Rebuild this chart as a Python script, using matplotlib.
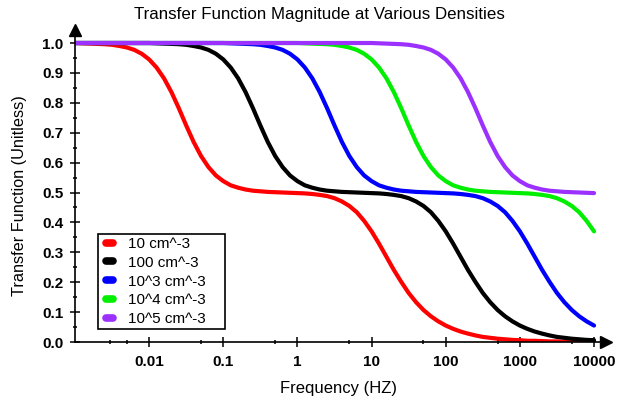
import matplotlib
matplotlib.use("Agg")
import matplotlib.pyplot as plt
from matplotlib.ticker import FixedLocator, NullFormatter

plt.rcParams['font.family'] = ['Liberation Sans', 'DejaVu Sans']

# frequences (Hz), pas de 1/10 de decade
freq = [0.001, 0.001259, 0.001585, 0.001995, 0.002512, 0.003162, 0.003981, 0.005012, 0.00631, 0.007943,
        0.01, 0.01259, 0.01585, 0.01995, 0.02512, 0.03162, 0.03981, 0.05012, 0.0631, 0.07943,
        0.1, 0.1259, 0.1585, 0.1995, 0.2512, 0.3162, 0.3981, 0.5012, 0.631, 0.7943,
        1, 1.259, 1.585, 1.995, 2.512, 3.162, 3.981, 5.012, 6.31, 7.943,
        10, 12.59, 15.85, 19.95, 25.12, 31.62, 39.81, 50.12, 63.1, 79.43,
        100, 125.9, 158.5, 199.5, 251.2, 316.2, 398.1, 501.2, 631, 794.3,
        1000, 1259, 1585, 1995, 2512, 3162, 3981, 5012, 6310, 7943,
        10000]

# valeurs, une liste par densite
h_10 = [1.000, 0.999, 0.998, 0.997, 0.996, 0.994, 0.990, 0.985, 0.977, 0.964,
        0.945, 0.918, 0.882, 0.836, 0.782, 0.724, 0.669, 0.622, 0.585, 0.557,
        0.538, 0.524, 0.516, 0.510, 0.506, 0.504, 0.502, 0.501, 0.500, 0.499,
        0.498, 0.497, 0.495, 0.492, 0.488, 0.481, 0.470, 0.455, 0.434, 0.405,
        0.370, 0.329, 0.285, 0.241, 0.201, 0.164, 0.133, 0.107, 0.086, 0.069,
        0.055, 0.044, 0.035, 0.028, 0.022, 0.017, 0.014, 0.011, 0.009, 0.007,
        0.006, 0.004, 0.004, 0.003, 0.002, 0.002, 0.001, 0.001, 0.001, 0.001,
        0.001]
h_100 = [1.000, 1.000, 1.000, 1.000, 1.000, 1.000, 1.000, 1.000, 1.000, 1.000,
         1.000, 0.999, 0.998, 0.997, 0.996, 0.994, 0.990, 0.985, 0.977, 0.964,
         0.945, 0.918, 0.882, 0.836, 0.782, 0.724, 0.669, 0.622, 0.585, 0.557,
         0.538, 0.524, 0.516, 0.510, 0.506, 0.504, 0.502, 0.501, 0.500, 0.499,
         0.498, 0.497, 0.495, 0.492, 0.488, 0.481, 0.470, 0.455, 0.434, 0.405,
         0.370, 0.329, 0.285, 0.241, 0.201, 0.164, 0.133, 0.107, 0.086, 0.069,
         0.055, 0.044, 0.035, 0.028, 0.022, 0.017, 0.014, 0.011, 0.009, 0.007,
         0.006]
h_1e3 = [1.000, 1.000, 1.000, 1.000, 1.000, 1.000, 1.000, 1.000, 1.000, 1.000,
         1.000, 1.000, 1.000, 1.000, 1.000, 1.000, 1.000, 1.000, 1.000, 1.000,
         1.000, 0.999, 0.998, 0.997, 0.996, 0.994, 0.990, 0.985, 0.977, 0.964,
         0.945, 0.918, 0.882, 0.836, 0.782, 0.724, 0.669, 0.622, 0.585, 0.557,
         0.538, 0.524, 0.516, 0.510, 0.506, 0.504, 0.502, 0.501, 0.500, 0.499,
         0.498, 0.497, 0.495, 0.492, 0.488, 0.481, 0.470, 0.455, 0.434, 0.405,
         0.370, 0.329, 0.285, 0.241, 0.201, 0.164, 0.133, 0.107, 0.086, 0.069,
         0.055]
h_1e4 = [1.000, 1.000, 1.000, 1.000, 1.000, 1.000, 1.000, 1.000, 1.000, 1.000,
         1.000, 1.000, 1.000, 1.000, 1.000, 1.000, 1.000, 1.000, 1.000, 1.000,
         1.000, 1.000, 1.000, 1.000, 1.000, 1.000, 1.000, 1.000, 1.000, 1.000,
         1.000, 0.999, 0.998, 0.997, 0.996, 0.994, 0.990, 0.985, 0.977, 0.964,
         0.945, 0.918, 0.882, 0.836, 0.782, 0.724, 0.669, 0.622, 0.585, 0.557,
         0.538, 0.524, 0.516, 0.510, 0.506, 0.504, 0.502, 0.501, 0.500, 0.499,
         0.498, 0.497, 0.495, 0.492, 0.488, 0.481, 0.470, 0.455, 0.434, 0.405,
         0.370]
h_1e5 = [1.000, 1.000, 1.000, 1.000, 1.000, 1.000, 1.000, 1.000, 1.000, 1.000,
         1.000, 1.000, 1.000, 1.000, 1.000, 1.000, 1.000, 1.000, 1.000, 1.000,
         1.000, 1.000, 1.000, 1.000, 1.000, 1.000, 1.000, 1.000, 1.000, 1.000,
         1.000, 1.000, 1.000, 1.000, 1.000, 1.000, 1.000, 1.000, 1.000, 1.000,
         1.000, 0.999, 0.998, 0.997, 0.996, 0.994, 0.990, 0.985, 0.977, 0.964,
         0.945, 0.918, 0.882, 0.836, 0.782, 0.724, 0.669, 0.622, 0.585, 0.557,
         0.538, 0.524, 0.516, 0.510, 0.506, 0.504, 0.502, 0.501, 0.500, 0.499,
         0.498]

series = [h_10, h_100, h_1e3, h_1e4, h_1e5]
labels = ["10 cm^-3", "100 cm^-3", "10^3 cm^-3", "10^4 cm^-3", "10^5 cm^-3"]
colors = ["#ff0000", "#000000", "#0000ff", "#00ee00", "#9b30ff"]

xticks = [0.01, 0.1, 1, 10, 100, 1000, 10000]
xticklabels = ["0.01", "0.1", "1", "10", "100", "1000", "10000"]
xminor = [0.003, 0.005, 0.05, 0.5, 5, 50, 500, 5000]
yticks = [0.0, 0.1, 0.2, 0.3, 0.4, 0.5, 0.6, 0.7, 0.8, 0.9, 1.0]
yminor = [0.05, 0.15, 0.25, 0.35, 0.45, 0.55, 0.65, 0.75, 0.85, 0.95]

fig = plt.figure(figsize=(6.19, 4.01), dpi=100)
ax = fig.add_axes([75 / 619, 59 / 401, 531 / 619, 312 / 401])

for y, lab, c in zip(series, labels, colors):
    ax.plot(freq, y, color=c, lw=3, label=lab, solid_capstyle='round')

ax.set_xscale('log')
ax.set_xlim(0.001, 14500)
ax.set_ylim(0, 1.0435)

ax.xaxis.set_major_locator(FixedLocator(xticks))
ax.set_xticklabels(xticklabels)
ax.xaxis.set_minor_locator(FixedLocator(xminor))
ax.xaxis.set_minor_formatter(NullFormatter())
ax.yaxis.set_major_locator(FixedLocator(yticks))
ax.set_yticklabels([f"{v:.1f}" for v in yticks])
ax.yaxis.set_minor_locator(FixedLocator(yminor))

ax.spines['top'].set_visible(False)
ax.spines['right'].set_visible(False)
for s in ['left', 'bottom']:
    ax.spines[s].set_linewidth(1.2)

ax.tick_params(which='major', direction='inout', length=7.5, width=1.1, labelsize=11)
ax.tick_params(axis='y', which='major', pad=4.5)
ax.tick_params(axis='x', which='major', pad=5.5)
ax.tick_params(axis='x', which='minor', direction='inout', length=3, width=1.1)
ax.tick_params(axis='y', which='minor', direction='inout', length=3.5, width=1.1)
for t in ax.get_xticklabels() + ax.get_yticklabels():
    t.set_fontweight('bold')

# fleches au bout des axes
ax.plot(1, 0, '>k', ms=8, transform=ax.transAxes, clip_on=False)
ax.plot(0, 1, '^k', ms=8, transform=ax.transAxes, clip_on=False)

fig.text(319 / 619, 1 - 15 / 401, "Transfer Function Magnitude at Various Densities",
         ha='center', va='center', fontsize=12.2)
fig.text(20 / 619, 1 - 196 / 401, "Transfer Function (Unitless)",
         ha='center', va='center', rotation=90, fontsize=11.7)
fig.text(338 / 619, 1 - 388 / 401, "Frequency (HZ)",
         ha='center', va='center', fontsize=12)

leg = ax.legend(loc='upper left', bbox_to_anchor=(97.7 / 619, 0.18, 127.3 / 619, 1 - 234 / 401 - 0.18),
                bbox_transform=fig.transFigure, mode='expand', borderaxespad=0,
                fontsize=11, handlelength=1.3, handletextpad=0.48, labelspacing=0.31,
                borderpad=0.2, fancybox=False, framealpha=1, edgecolor='black')
leg.get_frame().set_linewidth(1.2)
for h in leg.legend_handles:
    x = h.get_xdata()
    yv = h.get_ydata()[0]
    h.set_data([x[0] + 3.65, x[-1] - 5.35], [yv, yv])
    h.set_linewidth(5.5)
    h.set_solid_capstyle('round')

fig.savefig("out.png", dpi=100, facecolor='white')
